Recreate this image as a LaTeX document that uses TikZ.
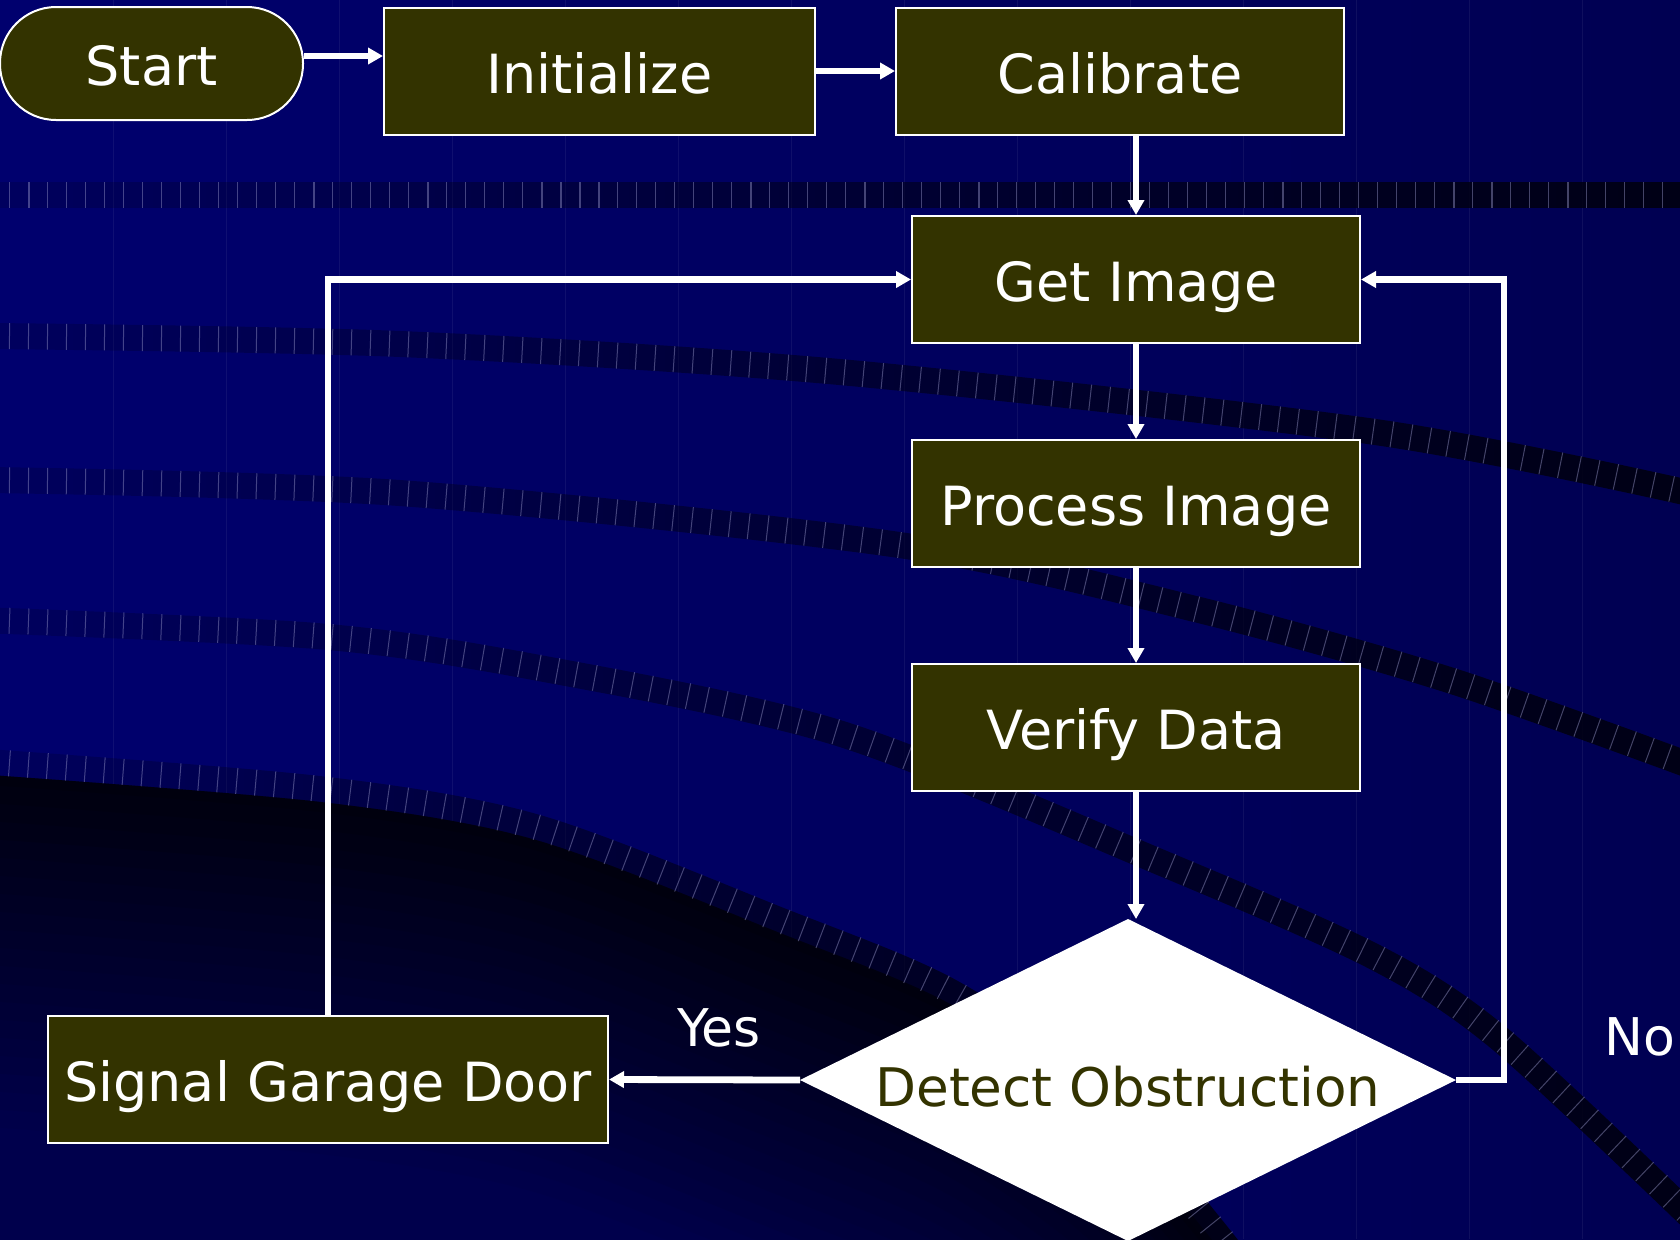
\documentclass[tikz,border=0pt]{standalone}
\usepackage{fontspec}
\setmainfont{DejaVu Sans}
\usetikzlibrary{shapes.geometric,arrows.meta,fadings}

\definecolor{navyL}{RGB}{0,0,110}
\definecolor{navyR}{RGB}{0,0,82}
\definecolor{olivebox}{RGB}{51,51,0}
\definecolor{bandink}{RGB}{0,0,16}
\definecolor{tickink}{RGB}{150,150,200}
\definecolor{voidtop}{RGB}{0,0,14}
\definecolor{voidbot}{RGB}{0,0,76}

% bands get darker towards the right
\tikzfading[name=bandfade, left color=transparent!85, right color=transparent!8]

\newcommand{\boxfont}{\fontsize{27pt}{32pt}\selectfont}
\newcommand{\labelfont}{\fontsize{26pt}{30pt}\selectfont}

% one dark ring with its row of ticks
\newcommand{\ring}[1]{%
  \draw[arcband] plot[smooth] coordinates {#1};
  \draw[tickrow] plot[smooth] coordinates {#1};}

\begin{document}
\begin{tikzpicture}[x=0.5pt,y=-0.5pt,
    stepbox/.style={draw=white, line width=1pt, fill=olivebox, text=white,
      font=\boxfont, inner sep=0pt, text height=22.2pt, text depth=0pt,
      minimum height=63.5pt},
    flow/.style={draw=white, line width=3.4pt, -{Triangle[length=7.5pt,width=8pt]}},
    arcband/.style={line width=13pt, draw=bandink, path fading=bandfade},
    tickrow/.style={line width=13pt, draw=tickink, draw opacity=0.45,
      dash pattern=on 0.5pt off 9pt}]
  \useasboundingbox (0,0) rectangle (1680,1239);

  % Background
  \fill[left color=navyL, right color=navyR] (0,0) rectangle (1680,1239);
  \foreach \x in {113,226,...,1680}
    \draw[white, opacity=0.06, line width=0.5pt] (\x,0) -- (\x,1239);

  % Rings
  \ring{(-10,195) (1690,195)}
  \ring{(-10,336) (400,344) (840,372) (1376,432) (1690,493)}
  \ring{(-10,480) (400,493) (900,545) (1200,610) (1450,680) (1690,765)}
  \ring{(-10,620) (321,636) (536,667) (840,733) (1161,862) (1376,957) (1500,1038) (1690,1215)}

  % Dark shadow in the lower left
  \begin{scope}
    \clip plot[smooth] coordinates {(-10,775) (321,802) (536,840) (780,933) (952,1005) (1100,1110) (1240,1275)}
      -- (1240,1320) -- (-10,1320) -- cycle;
    \fill[voidbot] (-10,700) rectangle (1300,1320);
    \foreach \k in {20,19,...,0} {
      \pgfmathsetmacro{\mix}{100*\k/20}
      \pgfmathsetmacro{\off}{-9*\k}
      \draw[voidbot!\mix!voidtop, line width=10pt, yshift=\off pt]
        plot[smooth] coordinates {(-10,775) (321,802) (536,840) (780,933) (952,1005) (1100,1110) (1240,1275)};
    }
  \end{scope}
  \ring{(-10,762) (321,789) (536,827) (780,920) (952,992) (1100,1097) (1240,1262)}

  % Steps
  \node[stepbox, rounded corners=28pt, minimum width=151.5pt, minimum height=56.5pt] (start) at (151.5,63.5) {Start};
  \node[stepbox, minimum width=215.5pt] (init) at (599.5,71) {Initialize};
  \node[stepbox, minimum width=224pt] (calib) at (1120,71) {Calibrate};
  \node[stepbox, minimum width=224pt] (getimg) at (1136,279.5) {Get Image};
  \node[stepbox, minimum width=224pt] (proc) at (1136,503.5) {Process Image};
  \node[stepbox, minimum width=224pt] (verify) at (1136,727.5) {Verify Data};
  \node[diamond, shape aspect=2, fill=white, text=olivebox, font=\fontsize{26.6pt}{31pt}\selectfont,
    inner sep=0pt, outer sep=0pt, text height=26pt, text depth=0pt,
    minimum width=328pt, minimum height=161pt] (decide) at (1128,1080) {Detect Obstruction};
  \node[stepbox, minimum width=280pt] (signal) at (328,1079.5) {Signal Garage Door};

  % Branch labels
  \node[text=white, font=\labelfont] (yes) at (719,1028) {Yes};
  \node[text=white, font=\labelfont] (no) at (1640,1037) {No};
  \coordinate (noturn) at (1504,1080);

  % Arrows
  \draw[flow] ([yshift=3.75pt]start.east) -- ([yshift=3.75pt]start.east -| init.west);
  \draw[flow] (init) -- (calib);
  \draw[flow] (calib.south -| getimg.north) -- (getimg.north);
  \draw[flow] (getimg) -- (proc);
  \draw[flow] (proc) -- (verify);
  \draw[flow] (verify.south) -- (verify.south |- decide.north);
  \draw[flow] (decide.west) -- (signal.east);
  \draw[flow] (decide.east) -- (noturn) |- (getimg.east);
  \draw[flow] (signal.north) |- (getimg.west);
\end{tikzpicture}
\end{document}
